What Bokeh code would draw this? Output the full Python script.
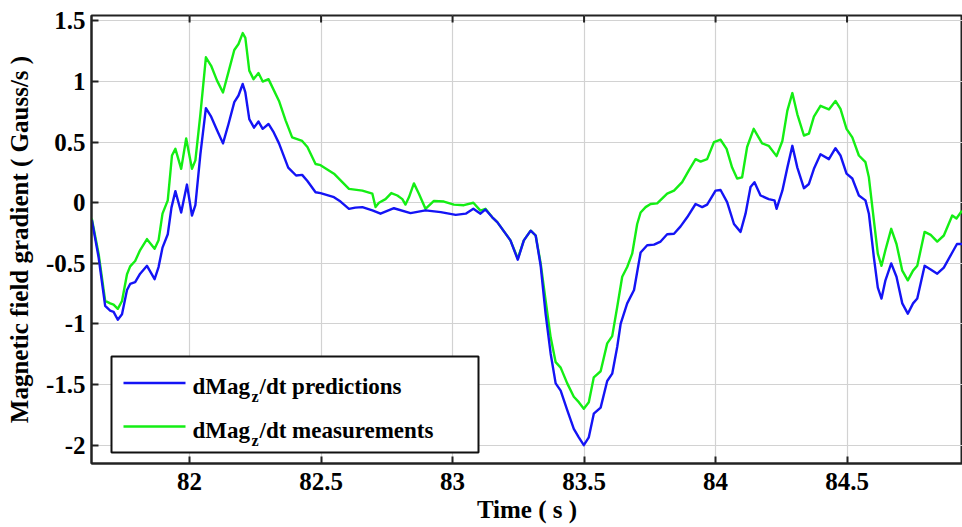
from bokeh.plotting import figure
from bokeh.models import Range1d, BoxAnnotation, Label, FixedTicker
from bokeh.embed import file_html
from bokeh.resources import INLINE

# ---- data ----
time_pred = [81.628, 81.654, 81.679, 81.698, 81.711, 81.727, 81.743, 81.762, 81.774, 81.793,
             81.812, 81.838, 81.867, 81.882, 81.897, 81.917, 81.931, 81.946, 81.968, 81.990,
             82.009, 82.022, 82.041, 82.062, 82.082, 82.104, 82.127, 82.148, 82.170, 82.186,
             82.202, 82.212, 82.227, 82.245, 82.262, 82.278, 82.300, 82.320, 82.340, 82.375,
             82.405, 82.428, 82.448, 82.479, 82.498, 82.549, 82.574, 82.606, 82.630, 82.657,
             82.695, 82.726, 82.777, 82.840, 82.897, 82.955, 83.012, 83.050, 83.079, 83.106,
             83.125, 83.151, 83.170, 83.220, 83.248, 83.271, 83.297, 83.316, 83.335, 83.354,
             83.373, 83.392, 83.411, 83.436, 83.461, 83.480, 83.499, 83.518, 83.537, 83.563,
             83.588, 83.607, 83.626, 83.639, 83.664, 83.690, 83.715, 83.740, 83.766, 83.791,
             83.816, 83.842, 83.867, 83.892, 83.924, 83.949, 83.968, 84.000, 84.019, 84.044,
             84.070, 84.095, 84.114, 84.133, 84.148, 84.171, 84.202, 84.224, 84.232, 84.254,
             84.273, 84.292, 84.311, 84.336, 84.355, 84.374, 84.399, 84.431, 84.456, 84.475,
             84.498, 84.520, 84.545, 84.570, 84.583, 84.602, 84.617, 84.631, 84.646, 84.668,
             84.688, 84.710, 84.731, 84.751, 84.767, 84.795, 84.818, 84.843, 84.868, 84.900,
             84.918, 84.937]
pred = [-0.14, -0.45, -0.85, -0.89, -0.90, -0.965, -0.92, -0.72, -0.67, -0.655,
        -0.585, -0.52, -0.63, -0.53, -0.37, -0.26, -0.04, 0.096, -0.08, 0.15,
        -0.105, -0.02, 0.40, 0.78, 0.71, 0.60, 0.49, 0.65, 0.83, 0.885,
        0.98, 0.91, 0.69, 0.62, 0.67, 0.61, 0.65, 0.58, 0.49, 0.29,
        0.225, 0.23, 0.18, 0.087, 0.08, 0.046, 0.01, -0.05, -0.04, -0.036,
        -0.063, -0.09, -0.045, -0.085, -0.063, -0.077, -0.10, -0.09, -0.05, -0.09,
        -0.055, -0.12, -0.16, -0.31, -0.47, -0.31, -0.23, -0.27, -0.52, -0.92,
        -1.245, -1.49, -1.55, -1.71, -1.865, -1.935, -2.0, -1.935, -1.74, -1.69,
        -1.47, -1.41, -1.19, -1.0, -0.83, -0.72, -0.41, -0.35, -0.345, -0.32,
        -0.26, -0.255, -0.195, -0.12, -0.01, -0.036, -0.015, 0.10, 0.105, 0.005,
        -0.175, -0.24, -0.09, 0.13, 0.17, 0.06, 0.03, 0.02, -0.05, 0.10,
        0.29, 0.47, 0.29, 0.12, 0.155, 0.28, 0.40, 0.36, 0.45, 0.39,
        0.24, 0.20, 0.06, 0.02, -0.09, -0.45, -0.70, -0.79, -0.64, -0.50,
        -0.61, -0.83, -0.915, -0.83, -0.79, -0.52, -0.55, -0.585, -0.535, -0.41,
        -0.34, -0.34]

time_meas = [81.628, 81.654, 81.679, 81.698, 81.711, 81.727, 81.743, 81.762, 81.774, 81.793,
             81.812, 81.838, 81.867, 81.882, 81.897, 81.917, 81.933, 81.946, 81.968, 81.987,
             82.009, 82.022, 82.041, 82.062, 82.082, 82.104, 82.127, 82.148, 82.170, 82.186,
             82.202, 82.212, 82.227, 82.243, 82.262, 82.278, 82.300, 82.340, 82.365, 82.390,
             82.428, 82.448, 82.479, 82.498, 82.549, 82.606, 82.657, 82.695, 82.707, 82.720,
             82.745, 82.767, 82.790, 82.809, 82.821, 82.834, 82.853, 82.872, 82.897, 82.929,
             82.967, 83.005, 83.043, 83.079, 83.106, 83.125, 83.151, 83.170, 83.220, 83.248,
             83.271, 83.297, 83.316, 83.335, 83.354, 83.373, 83.392, 83.411, 83.436, 83.461,
             83.480, 83.499, 83.518, 83.537, 83.563, 83.588, 83.607, 83.626, 83.645, 83.664,
             83.683, 83.702, 83.715, 83.734, 83.753, 83.778, 83.816, 83.842, 83.873, 83.899,
             83.924, 83.943, 83.968, 83.994, 84.019, 84.042, 84.063, 84.082, 84.101, 84.120,
             84.145, 84.177, 84.202, 84.232, 84.254, 84.273, 84.292, 84.311, 84.336, 84.355,
             84.374, 84.399, 84.431, 84.456, 84.475, 84.498, 84.520, 84.545, 84.570, 84.583,
             84.602, 84.617, 84.631, 84.646, 84.668, 84.688, 84.710, 84.731, 84.751, 84.767,
             84.795, 84.818, 84.843, 84.868, 84.900, 84.916, 84.937]
meas = [-0.13, -0.42, -0.81, -0.83, -0.84, -0.875, -0.81, -0.59, -0.525, -0.48,
        -0.39, -0.30, -0.38, -0.31, -0.09, 0.02, 0.39, 0.445, 0.28, 0.53,
        0.28, 0.35, 0.73, 1.20, 1.13, 1.01, 0.91, 1.08, 1.26, 1.31,
        1.40, 1.36, 1.09, 1.02, 1.07, 1.00, 1.02, 0.84, 0.68, 0.54,
        0.51, 0.46, 0.32, 0.31, 0.24, 0.115, 0.10, 0.075, -0.035, 0.0,
        0.03, 0.08, 0.06, 0.03, -0.015, 0.045, 0.16, 0.075, -0.05, 0.015,
        0.01, -0.015, -0.02, 0.0, -0.065, -0.05, -0.12, -0.16, -0.31, -0.46,
        -0.31, -0.23, -0.27, -0.50, -0.81, -1.11, -1.315, -1.36, -1.49, -1.60,
        -1.645, -1.70, -1.645, -1.44, -1.39, -1.16, -1.10, -0.86, -0.61, -0.53,
        -0.42, -0.175, -0.08, -0.036, -0.01, -0.005, 0.075, 0.10, 0.17, 0.27,
        0.36, 0.34, 0.36, 0.50, 0.52, 0.445, 0.29, 0.20, 0.21, 0.46,
        0.61, 0.49, 0.47, 0.385, 0.51, 0.76, 0.905, 0.73, 0.555, 0.57,
        0.71, 0.80, 0.77, 0.84, 0.775, 0.61, 0.54, 0.39, 0.335, 0.21,
        -0.146, -0.42, -0.52, -0.39, -0.215, -0.34, -0.56, -0.64, -0.56, -0.52,
        -0.24, -0.265, -0.32, -0.27, -0.105, -0.13, -0.065]

x_ticks = [82, 82.5, 83, 83.5, 84, 84.5]
x_tick_labels = ["82", "82.5", "83", "83.5", "84", "84.5"]
y_ticks = [-2, -1.5, -1, -0.5, 0, 0.5, 1, 1.5]
y_tick_labels = ["-2", "-1.5", "-1", "-0.5", "0", "0.5", "1", "1.5"]
legend_prefix = "dMag"
legend_sub = "z"
legend_suffixes = ["/dt predictions", "/dt measurements"]
x_label = "Time ( s )"
y_label = "Magnetic field gradient ( Gauss/s )"

BLUE = "#1414f5"
GREEN = "#14ee14"
DARK = "#222222"
FONT = "Liberation Serif"

X0, X1 = 81.627, 84.939
Y0, Y1 = -2.151, 1.545

# frame placement in page pixels
FL, FR, FT, FB = 91, 962, 15, 463

p = figure(width=962, height=527, x_range=Range1d(X0, X1), y_range=Range1d(Y0, Y1),
           output_backend="svg", toolbar_location=None,
           min_border_left=FL, min_border_right=0, min_border_top=FT, min_border_bottom=527 - FB)
p.background_fill_color = "white"
p.border_fill_color = "white"
p.outline_line_color = DARK
p.outline_line_width = 2

# axes
for ax in (p.xaxis[0], p.yaxis[0]):
    ax.axis_line_color = DARK
    ax.axis_line_width = 2
    ax.major_tick_in = 7
    ax.major_tick_out = 0
    ax.major_tick_line_width = 2
    ax.major_tick_line_color = DARK
    ax.minor_tick_line_color = None
    ax.major_label_text_font = FONT
    ax.major_label_text_font_style = "bold"
    ax.major_label_text_font_size = "25px"
    ax.major_label_text_color = "black"
    ax.axis_label_text_font = FONT
    ax.axis_label_text_font_style = "bold"
    ax.axis_label_text_font_size = "25px"
    ax.axis_label_text_color = "black"

p.xaxis.ticker = FixedTicker(ticks=x_ticks)
p.yaxis.ticker = FixedTicker(ticks=y_ticks)
p.xaxis.major_label_overrides = {v: s for v, s in zip(x_ticks, x_tick_labels)}
p.yaxis.major_label_overrides = {v: s for v, s in zip(y_ticks, y_tick_labels)}
p.xaxis.axis_label = x_label
p.yaxis.axis_label = y_label
p.xaxis.major_label_standoff = 9
p.xaxis.axis_label_standoff = 3
p.yaxis.major_label_standoff = 6
p.yaxis.axis_label_standoff = 10

p.xgrid.ticker = FixedTicker(ticks=x_ticks)
p.ygrid.ticker = FixedTicker(ticks=y_ticks)
p.grid.grid_line_color = "#d2d2d2"
p.grid.grid_line_width = 1.2

# tick marks along the top edge (pointing inward)
tick_len = 7 / (FB - FT) * (Y1 - Y0)
p.segment(x0=x_ticks, y0=[Y1] * len(x_ticks), x1=x_ticks, y1=[Y1 - tick_len] * len(x_ticks),
          line_color=DARK, line_width=2)

# data lines
p.line(time_meas, meas, line_color=GREEN, line_width=2.4, line_join="round")
p.line(time_pred, pred, line_color=BLUE, line_width=2.4, line_join="round")

# ---- legend drawn by hand (for the subscript) ----
def dx(px):
    return X0 + (px - FL) / (FR - FL) * (X1 - X0)
def dy(py):
    return Y1 - (py - FT) / (FB - FT) * (Y1 - Y0)

p.add_layout(BoxAnnotation(left=dx(111), right=dx(478), top=dy(356), bottom=dy(452),
                           fill_color="white", fill_alpha=1.0,
                           line_color="#111111", line_width=2, line_alpha=1.0))
for col, ly in ((BLUE, 382.5), (GREEN, 426)):
    p.add_layout(BoxAnnotation(left=dx(123), right=dx(185), top=dy(ly - 1.2), bottom=dy(ly + 1.2),
                               fill_color=col, fill_alpha=1.0, line_alpha=0))
for suffix, base in zip(legend_suffixes, (386, 430)):
    p.add_layout(Label(x=dx(192), y=dy(base), text=legend_prefix, text_font=FONT,
                       text_font_style="bold", text_font_size="23px",
                       text_baseline="alphabetic", text_align="left", text_color="black"))
    p.add_layout(Label(x=dx(251), y=dy(base + 10), text=legend_sub, text_font=FONT,
                       text_font_style="bold", text_font_size="16px",
                       text_baseline="alphabetic", text_align="left", text_color="black"))
    p.add_layout(Label(x=dx(259), y=dy(base), text=suffix, text_font=FONT,
                       text_font_style="bold", text_font_size="23px",
                       text_baseline="alphabetic", text_align="left", text_color="black"))

open("out.html", "w").write(file_html(p, INLINE))
